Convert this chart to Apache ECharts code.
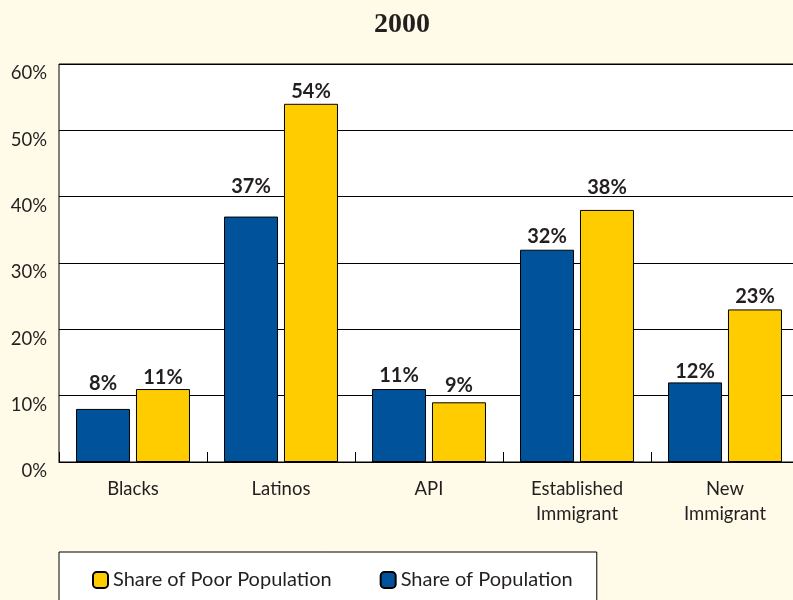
<!DOCTYPE html>
<html>
<head>
<meta charset="utf-8">
<script src="https://cdn.jsdelivr.net/npm/echarts@6/dist/echarts.min.js"></script>
<style>
  html, body { margin: 0; padding: 0; background: #fffbe8; overflow: hidden; }
  #chart { width: 810px; height: 600px; }
</style>
</head>
<body>
<div id="chart"></div>
<script>
// 数据
var categories = ['Blacks', 'Latinos', 'API', 'Established\nImmigrant', 'New\nImmigrant'];
var sharePop = [8, 37, 11, 32, 12];
var sharePoor = [11, 54, 9, 38, 23];
var yTicks = [0, 10, 20, 30, 40, 50, 60];

// 标签与柱顶的距离（原图手动摆放，不统一）
var popLabelGap = [15, 20, 3, 3, 1];
var poorLabelGap = [1, 2, 7, 12, 3];

var textColor = '#231f20';
var font = 'Lato';

function withGap(values, gaps) {
    return values.map(function (v, i) {
        return { value: v, label: { distance: gaps[i] } };
    });
}

var chart = echarts.init(document.getElementById('chart'));
var barLabel = {
    show: true, position: 'top', formatter: '{c}%',
    fontFamily: font, fontSize: 20, fontWeight: 'bold', color: textColor
};
var option = {
    backgroundColor: '#fffbe8',
    title: {
        text: '2000',
        left: 397, textAlign: 'center',
        top: 6,
        textStyle: { fontFamily: 'Liberation Serif', fontSize: 28, fontWeight: 'bold', color: textColor }
    },
    grid: {
        left: 59, top: 64, width: 740, height: 398,
        show: true, backgroundColor: '#ffffff', borderColor: '#000', borderWidth: 1
    },
    legend: {
        data: ['Share of Poor Population', 'Share of Population'],
        left: 59, top: 552,
        padding: [18, 24, 24, 33],
        itemGap: 48,
        itemWidth: 15, itemHeight: 16,
        backgroundColor: '#ffffff', borderColor: '#000', borderWidth: 1,
        textStyle: { fontFamily: font, fontSize: 20, color: textColor }
    },
    xAxis: {
        type: 'category',
        data: categories,
        axisLine: { lineStyle: { color: '#000', width: 1 } },
        axisTick: { show: true, inside: true, length: 10, lineStyle: { color: '#000' } },
        axisLabel: { fontFamily: font, fontSize: 18.5, color: textColor, margin: 15, lineHeight: 25 }
    },
    yAxis: {
        type: 'value',
        min: yTicks[0], max: yTicks[yTicks.length - 1], interval: 10,
        axisLine: { show: false },
        axisTick: { show: false },
        splitLine: { lineStyle: { color: '#000', width: 1 } },
        axisLabel: {
            formatter: '{value}%', fontFamily: font, fontSize: 18.5, color: textColor,
            margin: 12, verticalAlign: 'top'
        }
    },
    series: [
        {
            name: 'Share of Population',
            type: 'bar',
            data: withGap(sharePop, popLabelGap),
            barWidth: 54,
            barGap: '11%',
            itemStyle: { color: '#00529b', borderColor: '#000', borderWidth: 1 },
            label: barLabel
        },
        {
            name: 'Share of Poor Population',
            type: 'bar',
            data: withGap(sharePoor, poorLabelGap),
            barWidth: 54,
            itemStyle: { color: '#ffcc00', borderColor: '#000', borderWidth: 1 },
            label: barLabel
        }
    ]
};
chart.setOption(option);
window.onresize = chart.resize;
</script>
</body>
</html>
